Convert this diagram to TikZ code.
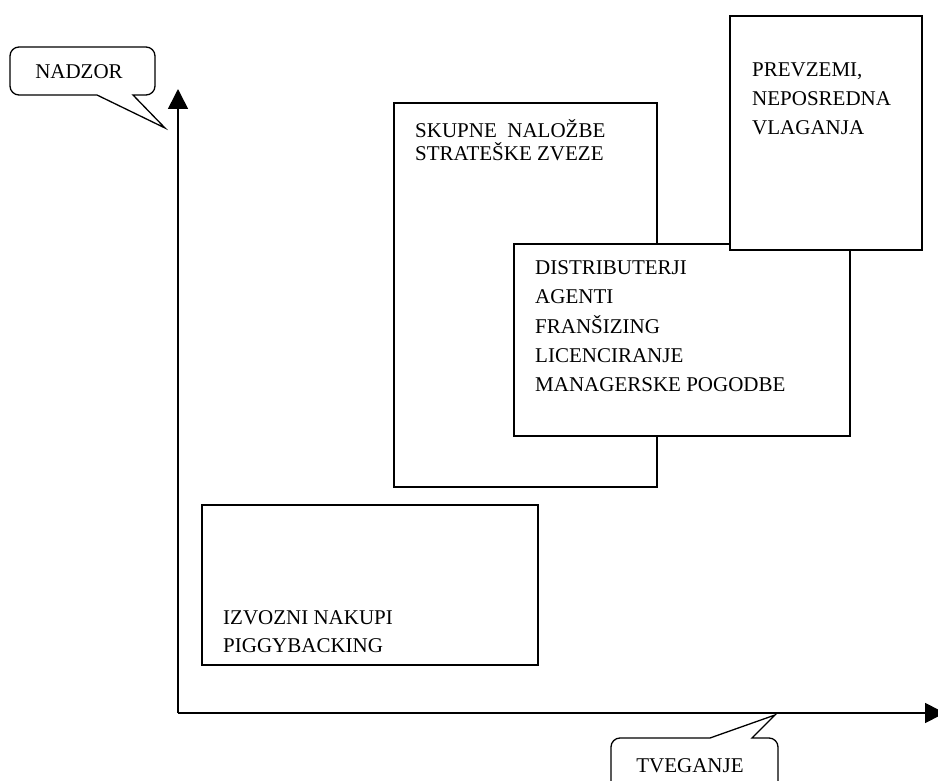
\documentclass[tikz,border=0pt]{standalone}
\usepackage{fontspec}
\setmainfont{Liberation Serif}
\usetikzlibrary{arrows.meta}
\begin{document}
\begin{tikzpicture}[x=1pt,y=-1pt,
  box/.style={draw=black, fill=white, line width=1.5pt, inner sep=0pt, outer sep=0pt, anchor=north west},
  lbl/.style={inner sep=0pt, anchor=base west, font=\fontsize{21}{29.5}\selectfont},
  axis/.style={line width=1.6pt, -{Triangle[length=20pt,width=20pt]}},
  callout/.style={draw=black, fill=white, line width=1.3pt, line join=miter}]
\useasboundingbox (0,0) rectangle (938,781);
% axes
\coordinate (origin) at (178,713);
\coordinate (ytip) at (178,89);
\coordinate (xtip) at (945,713);
\draw[axis] (origin) -- (ytip);
\draw[axis] (origin) -- (xtip);
% boxes
\node[box, minimum width=263pt, minimum height=384pt] (skupne) at (394,103) {};
\node[lbl, font=\fontsize{21}{23}\selectfont] (skupnetxt) at (415,138)
  {\vtop{\hbox{SKUPNE\ \ NALOŽBE}\hbox{STRATEŠKE ZVEZE}}};
\node[box, minimum width=336pt, minimum height=192pt] (distr) at (514,244) {};
\node[lbl] (distrtxt) at (535,274)
  {\vtop{\hbox{DISTRIBUTERJI}\hbox{AGENTI}\hbox{FRANŠIZING}\hbox{LICENCIRANJE}\hbox{MANAGERSKE POGODBE}}};
\node[box, minimum width=192pt, minimum height=234pt] (prev) at (730,16) {};
\node[lbl, font=\fontsize{21}{29}\selectfont] (prevtxt) at (752,77)
  {\vtop{\hbox{PREVZEMI,}\hbox{NEPOSREDNA}\hbox{VLAGANJA}}};
\node[box, minimum width=336pt, minimum height=160pt] (izv) at (202,505) {};
\node[lbl, font=\fontsize{21}{28}\selectfont] (izvtxt) at (223,624)
  {\vtop{\hbox{IZVOZNI NAKUPI}\hbox{PIGGYBACKING}}};
% callout NADZOR
\coordinate (nA) at (133,95);
\coordinate (nTip) at (165,128);
\coordinate (nB) at (97,95);
\draw[callout] (nB) -- (nTip) -- (nA) [rounded corners=9pt] -- (155,95) -- (155,47) -- (10,47) -- (10,95) -- (60,95) [sharp corners] -- cycle;
\node[inner sep=0pt, anchor=base, font=\fontsize{21}{25}\selectfont] (nadzor) at (79,79) {NADZOR};
% callout TVEGANJE
\coordinate (tA) at (710,738);
\coordinate (tTip) at (775,715);
\coordinate (tB) at (752,738);
\draw[callout] (tA) -- (tTip) -- (tB) [rounded corners=9pt] -- (778,738) -- (778,800) -- (611,800) -- (611,738) -- (670,738) [sharp corners] -- cycle;
\node[inner sep=0pt, anchor=base, font=\fontsize{21}{25}\selectfont] (tveganje) at (690,772) {TVEGANJE};
\end{tikzpicture}
\end{document}
